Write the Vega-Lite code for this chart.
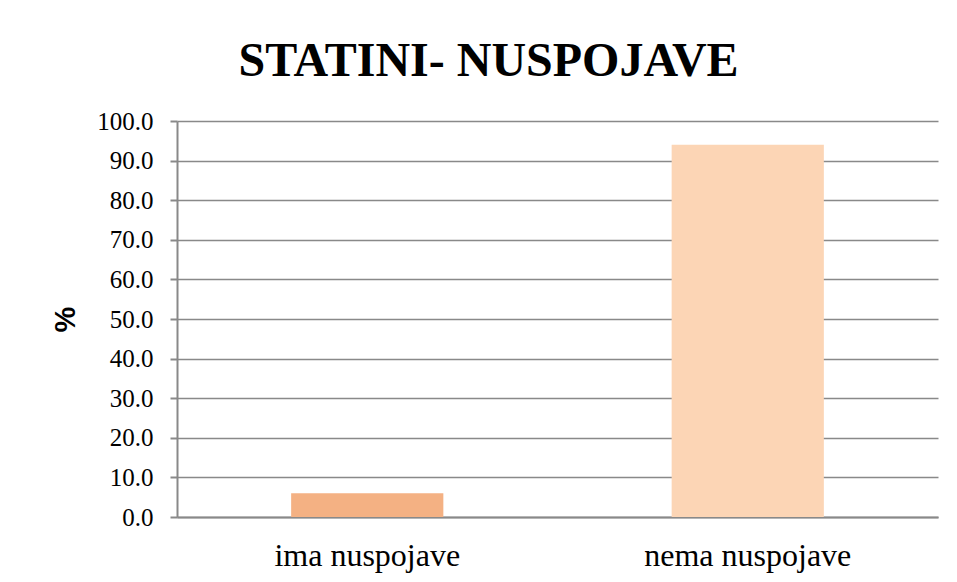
{
  "$schema": "https://vega.github.io/schema/vega-lite/v6.json",
  "autosize": "none",
  "width": 761,
  "height": 396,
  "padding": {"left": 177, "top": 121, "right": 19, "bottom": 65},
  "background": "white",
  "title": {
    "text": "STATINI- NUSPOJAVE",
    "font": "Liberation Serif",
    "fontSize": 48,
    "fontWeight": "bold",
    "color": "black",
    "anchor": "middle",
    "frame": "group",
    "dx": -69,
    "dy": 58,
    "baseline": "alphabetic",
    "offset": 43
  },
  "data": {
    "values": [
      {"kategorija": "ima nuspojave", "posto": 6.0},
      {"kategorija": "nema nuspojave", "posto": 94.0}
    ]
  },
  "mark": {"type": "bar"},
  "encoding": {
    "x": {
      "field": "kategorija",
      "type": "nominal",
      "sort": null,
      "scale": {"paddingInner": 0.6, "paddingOuter": 0.3},
      "axis": {
        "title": null,
        "labelAngle": 0,
        "labelFont": "Liberation Serif",
        "labelFontSize": 32,
        "labelLimit": 0,
        "labelColor": "black",
        "labelBaseline": "alphabetic",
        "labelPadding": 48,
        "ticks": false,
        "domainColor": "#898989",
        "domainWidth": 2,
        "grid": false
      }
    },
    "y": {
      "field": "posto",
      "type": "quantitative",
      "scale": {"domain": [0, 100]},
      "axis": {
        "title": "%",
        "titleFont": "Liberation Sans",
        "titleFontSize": 29,
        "titleFontWeight": "bold",
        "titleColor": "black",
        "titleAngle": -90,
        "titleX": -112,
        "titleY": 198,
        "titleAlign": "center",
        "titleBaseline": "middle",
        "values": [0, 10, 20, 30, 40, 50, 60, 70, 80, 90, 100],
        "format": ".1f",
        "labelFont": "Liberation Serif",
        "labelFontSize": 25,
        "labelColor": "black",
        "labelPadding": 17,
        "tickSize": 7,
        "tickColor": "#898989",
        "tickWidth": 2,
        "domainColor": "#898989",
        "domainWidth": 2,
        "grid": true,
        "gridColor": "#898989",
        "gridWidth": 1.5
      }
    },
    "color": {
      "field": "kategorija",
      "type": "nominal",
      "scale": {"domain": ["ima nuspojave", "nema nuspojave"], "range": ["#F4B183", "#FCD5B5"]},
      "legend": null
    }
  },
  "config": {
    "view": {"stroke": null}
  }
}
